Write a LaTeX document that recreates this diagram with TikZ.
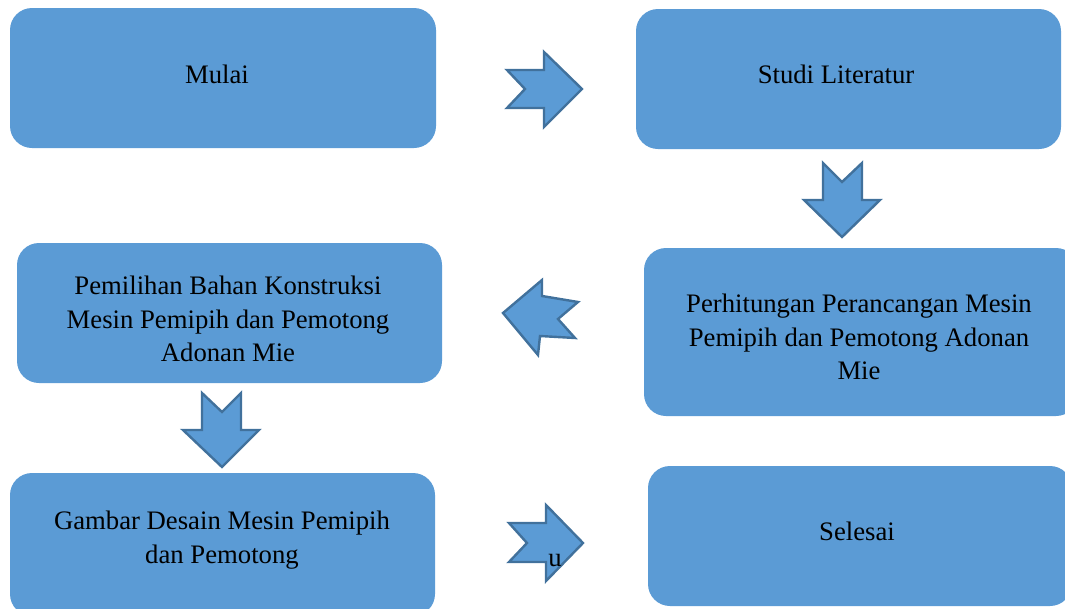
\documentclass[tikz,border=0pt]{standalone}
\usepackage{fontspec}
\setmainfont{Liberation Serif}
\definecolor{boxblue}{HTML}{5B9BD5}
\definecolor{edgeblue}{HTML}{41719C}
\tikzset{
  box/.style={fill=boxblue, draw=none, rounded corners=22pt},
  lbl/.style={align=center, inner sep=0pt, font=\fontsize{26.7}{33.5}\selectfont},
  blockarrow/.style={fill=boxblue, draw=edgeblue, line width=2.4pt, line join=miter},
}
\begin{document}
\begin{tikzpicture}[x=1pt,y=-1pt]
\useasboundingbox (0,0) rectangle (1065,608);
% boxes
\fill[box] (10,8) rectangle (436,148);
\fill[box] (636,9) rectangle (1061,149);
\fill[box] (644,248) rectangle (1078,416);
\fill[box] (17,243) rectangle (442,383);
\fill[box] (10,473) rectangle (435,616);
\fill[box] (648,466) rectangle (1072,606);
% labels
\node[lbl] (mulai) at (217,74) {Mulai};
\node[lbl] (studi) at (836,74) {Studi Literatur};
\node[lbl] (hitung) at (859,337) {Perhitungan Perancangan Mesin\\Pemipih dan Pemotong Adonan\\Mie};
\node[lbl] (bahan) at (228,319) {Pemilihan Bahan Konstruksi\\Mesin Pemipih dan Pemotong\\Adonan Mie};
\node[lbl] (gambar) at (222,540) {Gambar Desain Mesin Pemipih\\dan Pemotong};
\node[lbl] (selesai) at (857,531) {Selesai};
% block arrows
\draw[blockarrow] (507,70) -- (544,70) -- (544,52) -- (582,89) -- (544,127) -- (544,108) -- (507,108) -- (525,89) -- cycle;
\draw[blockarrow] (823,163) -- (842,182) -- (862,163) -- (862,200) -- (880,200) -- (842,237) -- (804,200) -- (823,200) -- cycle;
\draw[blockarrow] (578,302) -- (542,296) -- (542,280) -- (503,313) -- (538,355) -- (540,336) -- (575,338) -- (558,319) -- cycle;
\draw[blockarrow] (202,393) -- (222,412) -- (241,393) -- (241,430) -- (259,430) -- (222,467) -- (183,430) -- (202,430) -- cycle;
\draw[blockarrow] (509,523) -- (546,523) -- (546,505) -- (583,543) -- (546,581) -- (546,562) -- (509,562) -- (527,543) -- cycle;
\node[lbl, anchor=base] (u) at (555,566) {u};
\end{tikzpicture}
\end{document}
